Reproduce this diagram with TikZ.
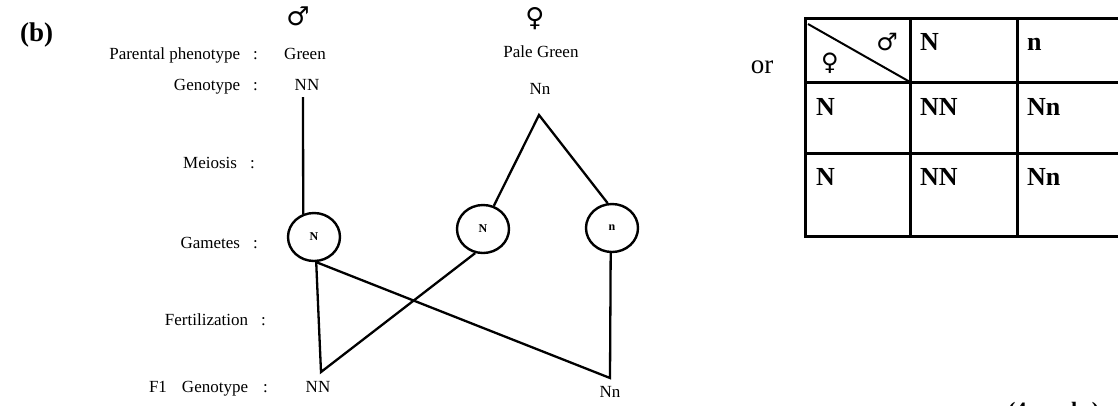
\documentclass[tikz,border=0pt]{standalone}
\usepackage{fontspec}
\setmainfont{Liberation Serif}
\newfontfamily\symfont{DejaVu Sans}
\usetikzlibrary{shapes.geometric}
\begin{document}
\begin{tikzpicture}[x=1pt,y=-1pt,
 lbl/.style={anchor=base east, inner sep=0, font=\fontsize{17}{18}\selectfont},
 val/.style={anchor=base, inner sep=0, font=\fontsize{17}{18}\selectfont},
 gam/.style={ellipse, draw, line width=2.4pt, minimum width=52pt, minimum height=48pt, inner sep=0, font=\fontsize{12}{12}\selectfont\bfseries},
 ln/.style={line width=2.3pt},
 tl/.style={line width=3pt},
 cell/.style={anchor=base west, inner sep=0, font=\fontsize{26}{28}\selectfont\bfseries},
 sym/.style={inner sep=0, font=\symfont\fontsize{26}{28}\selectfont}]
\useasboundingbox (0,0) rectangle (1118,405);
\node[anchor=base west, inner sep=0, font=\fontsize{27}{28}\selectfont\bfseries] (b) at (20,41) {(b)};
% row labels
\node[lbl] (lp) at (258,59) {Parental phenotype\hspace{13pt}:};
\node[lbl] (lg) at (258,90) {Genotype\hspace{13pt}:};
\node[lbl] (lm) at (255,168) {Meiosis\hspace{13pt}:};
\node[lbl] (lga) at (258,248) {Gametes\hspace{13pt}:};
\node[lbl] (lf) at (266,325) {Fertilization\hspace{13pt}:};
\node[lbl] (lf1) at (268,392) {F1\hspace{15pt}Genotype\hspace{15pt}:};
% parents
\node[sym] (msym) at (298,16) {♂};
\node[val] (mph) at (305,59) {Green};
\node[val] (mg) at (307,90) {NN};
\node[sym] (fsym) at (535,19) {♀};
\node[val] (fph) at (541,57) {Pale Green};
\node[val] (fg) at (540,94) {Nn};
% gametes
\node[gam] (g1) at (314,237) {N};
\node[gam] (g2) at (483,229) {N};
\node[gam] (g3) at (612,228) {n};
% F1
\node[val] (f1) at (318,392) {NN};
\node[val] (f2) at (610,397) {Nn};
\coordinate (mtop) at (303,97);
\coordinate (fapex) at (539,115);
\coordinate (c1) at (321,372);
\coordinate (c2) at (610,378);
\draw[ln] (mtop) -- (g1.115);
\draw[ln] (g2.65) -- (fapex) -- (g3.100);
\draw[ln] (g1.-85) -- (c1) -- (g2.-108);
\draw[ln] (g1.-85) -- (c2) -- (g3.-93);
% or + Punnett square
\node[anchor=base, inner sep=0, font=\fontsize{27}{28}\selectfont] (or) at (762,73) {or};
\draw[tl] (805,18) rectangle (1130,236);
\draw[tl] (805,82) -- (1130,82);
\draw[tl] (805,153) -- (1130,153);
\draw[tl] (910,18) -- (910,236);
\draw[tl] (1017,18) -- (1017,236);
\draw[line width=2pt] (808,24) -- (910,82);
\node[sym, font=\symfont\fontsize{24}{26}\selectfont] (tm) at (887,42) {♂};
\node[sym, font=\symfont\fontsize{24}{26}\selectfont] (tf) at (830,63) {♀};
\node[cell] (h1) at (920,50) {N};
\node[cell] (h2) at (1027,50) {n};
\node[cell] (r1) at (816,115) {N};
\node[cell] (r1a) at (920,115) {NN};
\node[cell] (r1b) at (1027,115) {Nn};
\node[cell] (r2) at (816,185) {N};
\node[cell] (r2a) at (920,185) {NN};
\node[cell] (r2b) at (1027,185) {Nn};
\node[anchor=base west, inner sep=0, font=\fontsize{22}{24}\selectfont\bfseries] (marks) at (1008,417) {(4 marks)};
\end{tikzpicture}
\end{document}
